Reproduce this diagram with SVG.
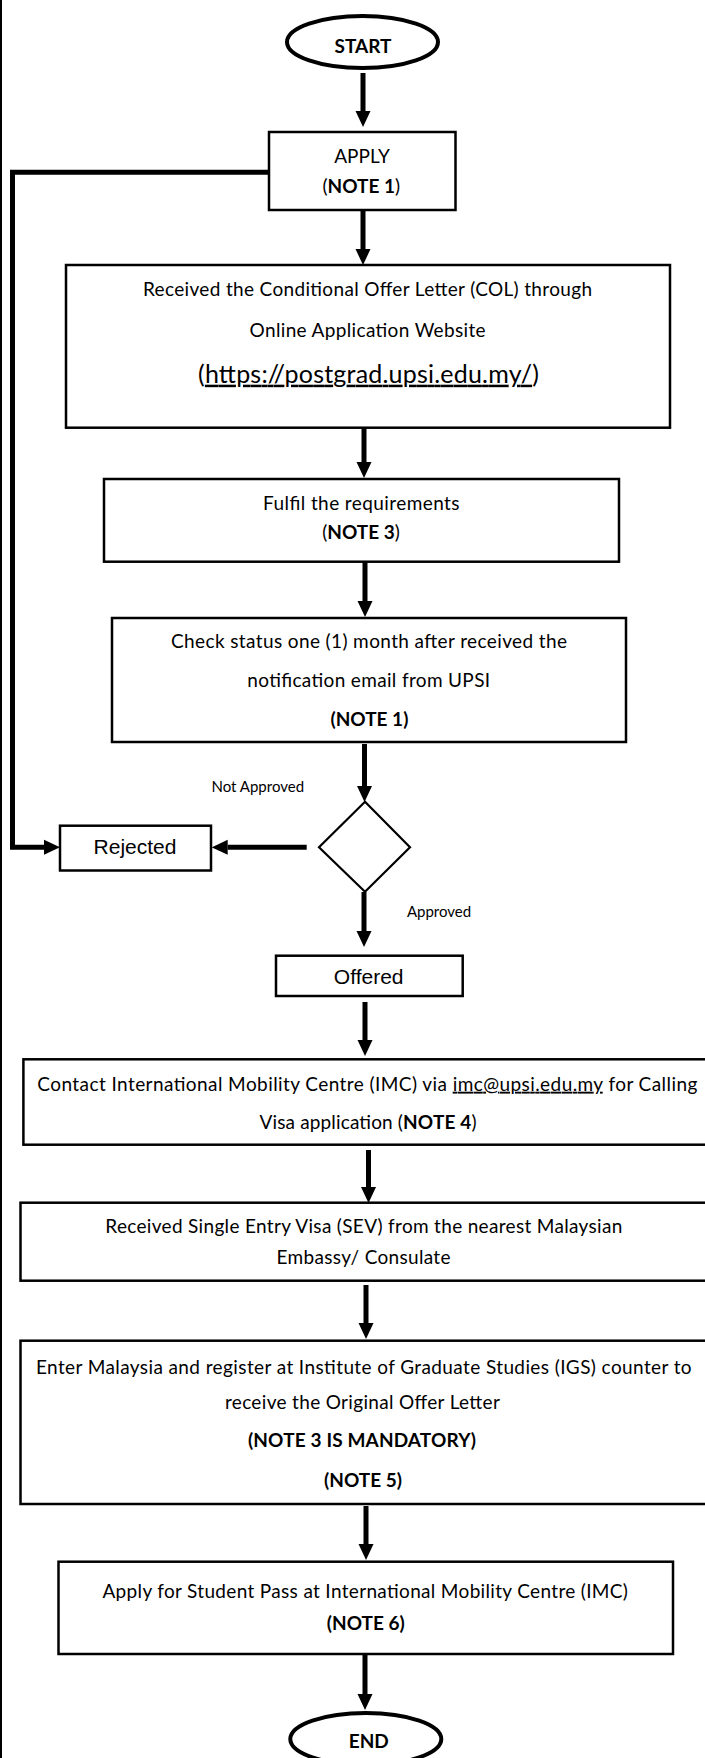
<svg xmlns="http://www.w3.org/2000/svg" width="705" height="1758" viewBox="0 0 705 1758">
<style>
.t{font-family:Lato,"Open Sans","Liberation Sans",sans-serif;font-size:19px;fill:#000;text-anchor:middle}
.b{font-weight:bold}
.u{text-decoration:underline}
.a{font-family:"Liberation Sans",Arial,sans-serif;font-size:21px;fill:#000;text-anchor:middle}
.s{font-size:15px}
.url{font-size:25px}
.box{fill:#fff;stroke:#000;stroke-width:2.5}
.oval{fill:#fff;stroke:#000;stroke-width:4}
.conn{stroke:#000;stroke-width:5;fill:none;marker-end:url(#ah)}
</style>
<defs>
<marker id="ah" viewBox="0 0 16 16" refX="0" refY="8" markerWidth="16" markerHeight="16" markerUnits="userSpaceOnUse" orient="auto">
<path d="M0,0.5 L16,8 L0,15.5 z" fill="#000"/>
</marker>
</defs>
<rect x="0" y="0" width="705" height="1758" fill="#fff"/>
<line x1="1" y1="0" x2="1" y2="1758" stroke="#000" stroke-width="2"/>

<g id="connectors">
<path class="conn" d="M363,73 V111"/>
<path class="conn" d="M363,210 V249"/>
<path class="conn" d="M364,428 V462"/>
<path class="conn" d="M365,562 V601"/>
<path class="conn" d="M364.5,744 V786"/>
<path class="conn" d="M364,892 V931"/>
<path class="conn" d="M365,1002 V1040"/>
<path class="conn" d="M368.5,1150 V1187"/>
<path class="conn" d="M366,1285 V1323"/>
<path class="conn" d="M366,1506 V1544"/>
<path class="conn" d="M365,1655 V1694"/>
<path class="conn" d="M306.7,847.3 H227.7"/>
<path class="conn" d="M269,172.3 H12.5 V847.3 H44" stroke-linejoin="miter"/>
</g>

<g id="start">
<ellipse class="oval" cx="362.5" cy="42" rx="75.5" ry="26"/>
<text class="t b" x="363" y="53.3">START</text>
</g>

<g id="apply">
<rect class="box" x="269" y="132" width="186.5" height="78"/>
<text class="t" x="362" y="162.7">APPLY</text>
<text class="t" x="361.3" y="193.3">(<tspan class="b">NOTE 1</tspan>)</text>
</g>

<g id="col">
<rect class="box" x="66" y="265" width="604" height="162.7"/>
<text class="t" x="367.5" y="296" textLength="449">Received the Conditional Offer Letter (COL) through</text>
<text class="t" x="367.6" y="337" textLength="236">Online Application Website</text>
<text class="t url" x="368.5" y="382.7" textLength="341">(<tspan class="u">https://postgrad.upsi.edu.my/</tspan>)</text>
</g>

<g id="fulfil">
<rect class="box" x="104" y="479" width="515" height="82.7"/>
<text class="t" x="361.3" y="510" textLength="196.5">Fulfil the requirements</text>
<text class="t" x="361" y="539">(<tspan class="b">NOTE 3</tspan>)</text>
</g>

<g id="check">
<rect class="box" x="112" y="618" width="514" height="124"/>
<text class="t" x="369" y="648" textLength="396">Check status one (1) month after received the</text>
<text class="t" x="368.7" y="687" textLength="242.8">notification email from UPSI</text>
<text class="t b" x="369.4" y="726">(NOTE 1)</text>
</g>

<g id="decision">
<polygon points="365,801.7 410,847.3 365,891.7 319,847.3" fill="#fff" stroke="#000" stroke-width="2.2"/>
<text class="t s" x="257.8" y="791.7">Not Approved</text>
<text class="t s" x="439" y="916.7">Approved</text>
</g>

<g id="rejected">
<rect class="box" x="60" y="825.7" width="151" height="44.8"/>
<text class="a" x="135" y="854">Rejected</text>
</g>

<g id="offered">
<rect class="box" x="276" y="955.7" width="186.7" height="40.3"/>
<text class="a" x="368.7" y="984">Offered</text>
</g>

<g id="contact">
<rect class="box" x="23.4" y="1059.3" width="700" height="85.4"/>
<text class="t" x="367.3" y="1090.7" textLength="660">Contact International Mobility Centre (IMC) via <tspan class="u">imc@upsi.edu.my</tspan> for Calling</text>
<text class="t" x="368" y="1129.3" textLength="217">Visa application (<tspan class="b">NOTE 4</tspan>)</text>
</g>

<g id="sev">
<rect class="box" x="20.5" y="1202.7" width="700" height="78"/>
<text class="t" x="363.8" y="1233.3" textLength="517">Received Single Entry Visa (SEV) from the nearest Malaysian</text>
<text class="t" x="363.5" y="1264.3" textLength="174">Embassy/ Consulate</text>
</g>

<g id="register">
<rect class="box" x="20.5" y="1340.7" width="700" height="163.3"/>
<text class="t" x="363.8" y="1374" textLength="655.7">Enter Malaysia and register at Institute of Graduate Studies (IGS) counter to</text>
<text class="t" x="362.4" y="1409.3" textLength="275">receive the Original Offer Letter</text>
<text class="t b" x="362" y="1446.7" textLength="228">(NOTE 3 IS MANDATORY)</text>
<text class="t b" x="363" y="1486.7">(NOTE 5)</text>
</g>

<g id="studentpass">
<rect class="box" x="58.5" y="1561.7" width="614.5" height="92.3"/>
<text class="t" x="365.2" y="1598.3" textLength="525.5">Apply for Student Pass at International Mobility Centre (IMC)</text>
<text class="t b" x="365.8" y="1630">(NOTE 6)</text>
</g>

<g id="end">
<ellipse class="oval" cx="365.8" cy="1739" rx="75.5" ry="26"/>
<text class="t b" x="368.8" y="1748">END</text>
</g>
</svg>
